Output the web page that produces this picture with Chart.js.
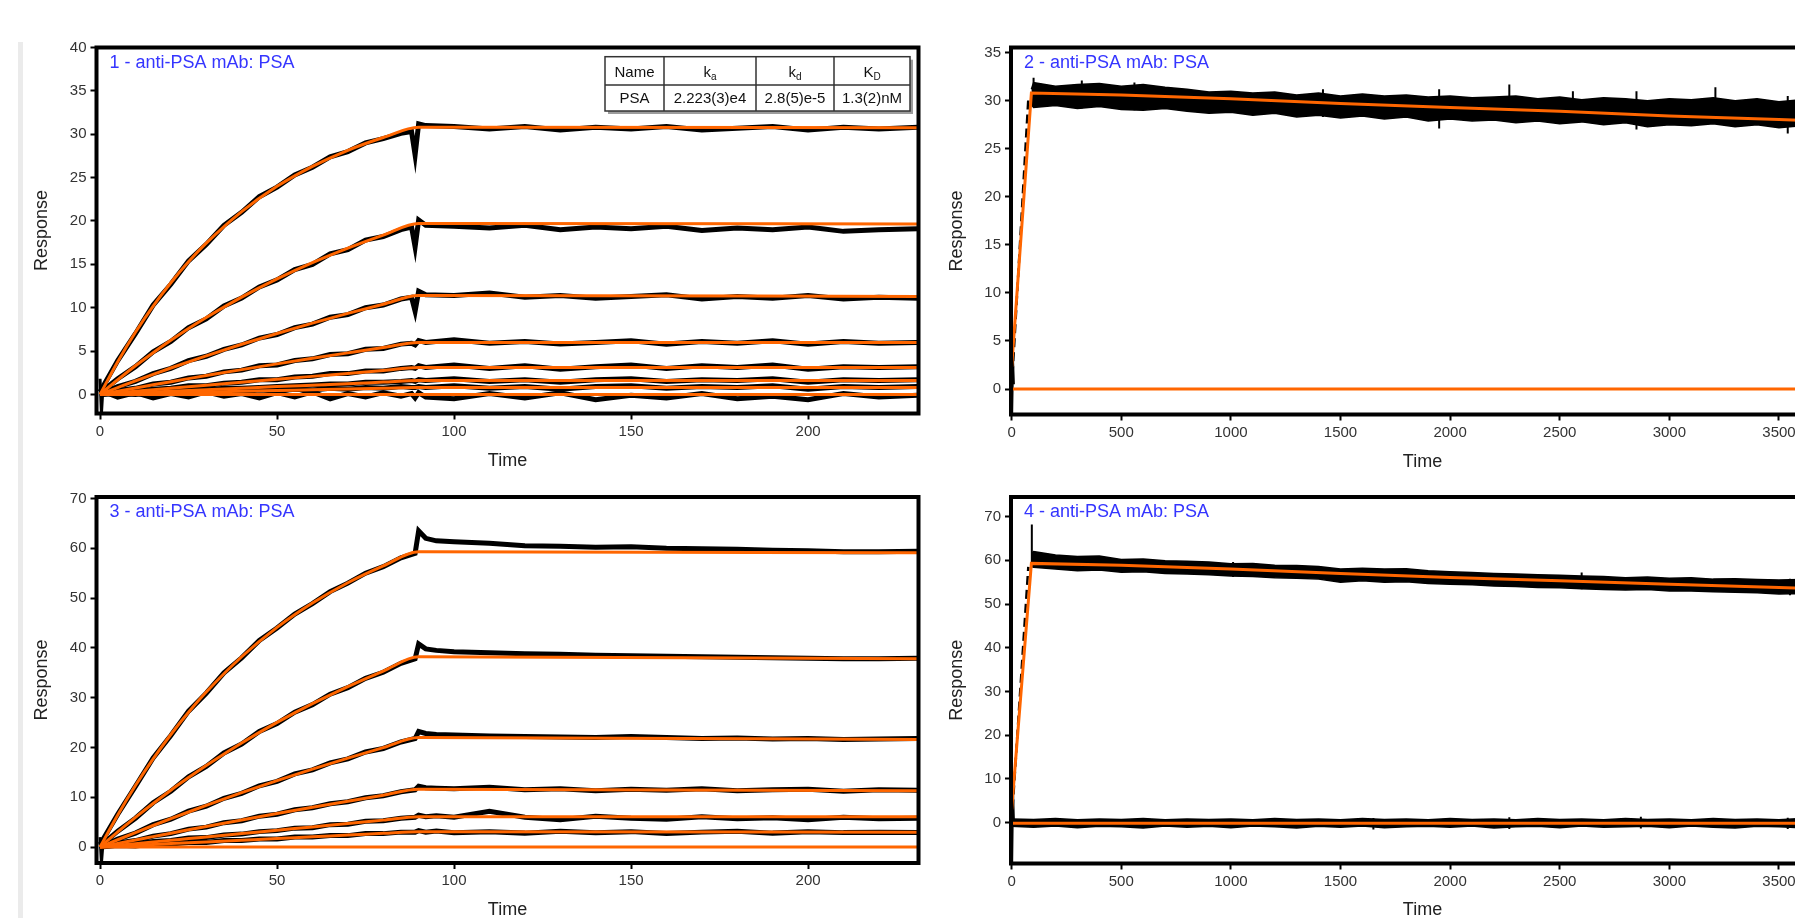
<!DOCTYPE html>
<html>
<head>
<meta charset="utf-8">
<script src="https://cdn.jsdelivr.net/npm/chart.js@4.4.1/dist/chart.umd.min.js"></script>
<style>
  html, body { margin: 0; padding: 0; background: #fff; overflow: hidden; width: 1795px; height: 918px; }
  .sidebar { position: absolute; left: 18px; top: 42px; width: 5px; height: 876px; background: #ebebeb; }
  canvas { position: absolute; }
</style>
</head>
<body>
<div class="sidebar"></div>
<canvas id="c1" width="960" height="480" style="left:0;top:0"></canvas>
<canvas id="c3" width="960" height="480" style="left:0;top:450px"></canvas>
<canvas id="c2" width="940" height="480" style="left:930px;top:0"></canvas>
<canvas id="c4" width="940" height="480" style="left:930px;top:450px"></canvas>
<script>
// ---- data ----
const titles = ['1 - anti-PSA mAb: PSA', '2 - anti-PSA mAb: PSA', '3 - anti-PSA mAb: PSA', '4 - anti-PSA mAb: PSA'];
const tableHead = ['Name', 'k', 'k', 'K'];
const tableSub = ['', 'a', 'd', 'D'];
const tableRow = ['PSA', '2.223(3)e4', '2.8(5)e-5', '1.3(2)nM'];

const xTicksShort = [0, 50, 100, 150, 200];
const xTicksLong = [0, 500, 1000, 1500, 2000, 2500, 3000, 3500];
const yTicks1 = [0, 5, 10, 15, 20, 25, 30, 35, 40];
const yTicks2 = [0, 5, 10, 15, 20, 25, 30, 35];
const yTicks3 = [0, 10, 20, 30, 40, 50, 60, 70];
const yTicks4 = [0, 10, 20, 30, 40, 50, 60, 70];

// fitted curves, panels 1 and 3
const tFit = [0, 5, 10, 15, 20, 25, 30, 40, 50, 60, 70, 80, 90, 231];
const p1Fit1 = [0, 3.78, 7.17, 10.19, 12.88, 15.29, 17.44, 21.08, 23.99, 26.30, 28.15, 29.62, 30.8, 30.75];
const p1Fit2 = [0, 1.69, 3.30, 4.81, 6.24, 7.60, 8.87, 11.22, 13.32, 15.19, 16.86, 18.36, 19.7, 19.65];
const p1Fit3 = [0, 0.79, 1.57, 2.32, 3.05, 3.76, 4.45, 5.78, 7.03, 8.22, 9.34, 10.40, 11.4, 11.3];
const p1Fit4 = [0, 0.37, 0.74, 1.11, 1.47, 1.82, 2.17, 2.86, 3.52, 4.16, 4.79, 5.41, 6.0, 6.0];
const p1Fit5 = [0, 0.18, 0.36, 0.53, 0.71, 0.88, 1.06, 1.40, 1.74, 2.08, 2.42, 2.76, 3.1, 3.1];
const p1Fit6 = [0, 0.09, 0.18, 0.27, 0.36, 0.45, 0.54, 0.72, 0.90, 1.07, 1.24, 1.42, 1.6, 1.6];
const p1Fit7 = [0, 0.04, 0.09, 0.13, 0.18, 0.22, 0.27, 0.36, 0.45, 0.53, 0.62, 0.71, 0.8, 0.8];
const p1Fit8 = [0, 0, 0, 0, 0, 0, 0, 0, 0, 0, 0, 0, 0, 0];

const p3Fit1 = [0, 6.45, 12.35, 17.71, 22.61, 27.07, 31.13, 38.22, 44.12, 49.01, 53.08, 56.46, 59.3, 59.1];
const p3Fit2 = [0, 3.06, 5.97, 8.75, 11.42, 13.95, 16.38, 20.91, 25.03, 28.79, 32.23, 35.35, 38.2, 37.8];
const p3Fit3 = [0, 1.47, 2.92, 4.33, 5.70, 7.04, 8.36, 10.92, 13.34, 15.65, 17.87, 19.98, 22.0, 21.6];
const p3Fit4 = [0, 0.71, 1.41, 2.10, 2.79, 3.47, 4.14, 5.45, 6.73, 7.99, 9.22, 10.42, 11.6, 11.3];
const p3Fit5 = [0, 0.35, 0.69, 1.03, 1.37, 1.70, 2.04, 2.71, 3.38, 4.05, 4.72, 5.41, 6.1, 6.1];
const p3Fit6 = [0, 0.17, 0.35, 0.52, 0.70, 0.87, 1.04, 1.38, 1.72, 2.07, 2.41, 2.76, 3.1, 3.0];
const p3Fit7 = [0, 0, 0, 0, 0, 0, 0, 0, 0, 0, 0, 0, 0, 0];

// measured traces, panel 1
const tData1 = [0, 5, 10, 15, 20, 25, 30, 35, 40, 45, 50, 55, 60, 65, 70, 75, 80, 85, 88, 89, 90, 92, 100, 110, 120, 130, 140, 150, 160, 170, 180, 190, 200, 210, 220, 231];
const p1Data1 = [0.3, 3.9, 7.0, 10.3, 12.7, 15.4, 17.3, 19.5, 21.0, 22.8, 23.9, 25.3, 26.2, 27.4, 28.0, 29.0, 29.5, 30.1, 30.3, 27.6, 31.2, 31.0, 30.9, 30.6, 30.9, 30.5, 30.8, 30.6, 30.9, 30.5, 30.7, 30.9, 30.5, 30.8, 30.6, 30.8];
const p1Data2 = [0.2, 1.8, 3.2, 4.9, 6.1, 7.7, 8.7, 10.2, 11.1, 12.4, 13.2, 14.4, 15.0, 16.2, 16.7, 17.8, 18.2, 19.0, 19.3, 17.0, 20.1, 19.5, 19.4, 19.2, 19.5, 19.0, 19.3, 19.1, 19.4, 18.9, 19.2, 19.0, 19.3, 18.8, 19.0, 19.1];
const p1Data3 = [0.1, 0.9, 1.5, 2.4, 3.0, 3.9, 4.4, 5.2, 5.7, 6.5, 6.9, 7.7, 8.1, 8.9, 9.2, 10.0, 10.3, 11.0, 11.2, 9.6, 11.9, 11.5, 11.4, 11.7, 11.2, 11.4, 11.1, 11.3, 11.5, 11.0, 11.3, 11.1, 11.4, 11.0, 11.2, 11.1];
const p1Data4 = [0, 0.45, 0.7, 1.2, 1.4, 1.9, 2.1, 2.6, 2.8, 3.3, 3.4, 3.9, 4.1, 4.6, 4.7, 5.2, 5.3, 5.8, 5.9, 5.7, 6.2, 6.0, 6.3, 5.9, 6.1, 5.8, 6.0, 6.2, 5.8, 6.1, 5.9, 6.2, 5.8, 6.1, 5.9, 6.0];
const p1Data5 = [0, 0.3, 0.3, 0.6, 0.7, 1.0, 1.0, 1.3, 1.4, 1.7, 1.7, 2.0, 2.1, 2.4, 2.4, 2.7, 2.7, 3.0, 3.1, 3.0, 3.3, 3.1, 3.4, 3.0, 3.3, 2.9, 3.2, 3.4, 3.0, 3.3, 3.1, 3.4, 2.9, 3.2, 3.1, 3.2];
const p1Data6 = [0, 0.2, 0.1, 0.3, 0.4, 0.5, 0.5, 0.7, 0.7, 0.8, 0.9, 1.0, 1.1, 1.2, 1.2, 1.4, 1.4, 1.5, 1.6, 1.5, 1.7, 1.6, 1.8, 1.5, 1.7, 1.4, 1.7, 1.8, 1.5, 1.7, 1.6, 1.8, 1.4, 1.7, 1.6, 1.7];
const p1Data7 = [0, 0.1, 0, 0.2, 0.2, 0.3, 0.2, 0.4, 0.3, 0.5, 0.4, 0.6, 0.5, 0.7, 0.6, 0.8, 0.7, 0.9, 0.8, 0.8, 0.9, 0.8, 1.0, 0.7, 0.9, 0.6, 0.9, 1.0, 0.7, 0.9, 0.8, 1.0, 0.6, 0.9, 0.8, 0.9];
const p1Data8 = [0.5, -0.3, 0.2, -0.4, 0.1, -0.3, 0.3, -0.2, 0.1, -0.4, 0.2, -0.3, 0.3, -0.5, 0.1, -0.3, 0.2, -0.2, 0.1, -0.4, 0.2, -0.3, -0.5, 0.1, -0.4, 0.2, -0.6, -0.1, -0.4, 0.1, -0.5, -0.2, -0.6, 0.1, -0.3, -0.1];

// measured traces, panel 3
const tData3 = [0, 5, 10, 15, 20, 25, 30, 35, 40, 45, 50, 55, 60, 65, 70, 75, 80, 85, 89, 90, 92, 95, 100, 110, 120, 130, 140, 150, 160, 170, 180, 190, 200, 210, 220, 231];
const p3Data1 = [0.5, 6.6, 12.2, 17.9, 22.4, 27.3, 30.9, 35.0, 38.0, 41.5, 44.0, 46.8, 48.9, 51.3, 53.0, 55.0, 56.3, 58.1, 59.0, 63.5, 62.0, 61.5, 61.3, 61.0, 60.5, 60.4, 60.2, 60.3, 60.0, 59.9, 59.8, 59.6, 59.5, 59.3, 59.3, 59.4];
const p3Data2 = [0.2, 3.2, 5.8, 8.9, 11.2, 14.1, 16.2, 18.9, 20.7, 23.2, 24.8, 27.1, 28.6, 30.7, 32.0, 33.9, 35.1, 36.9, 37.8, 40.8, 39.8, 39.5, 39.2, 39.0, 38.8, 38.7, 38.5, 38.4, 38.3, 38.2, 38.1, 38.0, 37.9, 37.8, 37.8, 37.9];
const p3Data3 = [0, 1.6, 2.8, 4.5, 5.6, 7.2, 8.2, 9.8, 10.8, 12.3, 13.2, 14.7, 15.5, 16.9, 17.7, 19.1, 19.8, 21.1, 21.8, 23.2, 22.8, 22.6, 22.5, 22.3, 22.2, 22.1, 22.0, 22.2, 22.0, 21.8, 21.9, 21.7, 21.8, 21.6, 21.7, 21.8];
const p3Data4 = [0, 0.8, 1.3, 2.2, 2.7, 3.6, 4.0, 4.9, 5.3, 6.2, 6.6, 7.5, 7.9, 8.7, 9.1, 9.9, 10.3, 11.1, 11.5, 12.2, 11.9, 11.8, 11.7, 12.0, 11.5, 11.7, 11.3, 11.6, 11.4, 11.7, 11.3, 11.5, 11.6, 11.2, 11.5, 11.4];
const p3Data5 = [0, 0.5, 0.6, 1.1, 1.3, 1.8, 1.9, 2.4, 2.6, 3.1, 3.3, 3.8, 3.9, 4.5, 4.6, 5.2, 5.3, 5.8, 6.0, 6.4, 6.1, 6.3, 6.0, 7.2, 6.0, 5.5, 6.2, 5.8, 5.6, 6.1, 5.7, 5.9, 5.5, 6.0, 5.7, 5.8];
const p3Data6 = [0, 0.3, 0.2, 0.6, 0.6, 0.9, 0.9, 1.3, 1.3, 1.6, 1.6, 2.0, 2.0, 2.3, 2.3, 2.7, 2.7, 3.0, 3.0, 3.3, 3.0, 3.2, 2.9, 3.1, 2.8, 3.2, 2.9, 3.1, 2.7, 3.0, 3.2, 2.8, 3.1, 2.9, 3.0, 2.9];

// injection start spikes
const startT = [0, 0.4, 0.8];
const p1StartY = [1.8, -2.2, 0.6];
const p3StartY = [2.0, -3.2, 0.5];
const startTLong = [0, 4, 8];
const p2StartY = [-2.6, 3.0, 0.5];
const p4StartY = [-9.4, 7.0, 0.5];

// long runs, panels 2 and 4
const tFitLong = [0, 90, 500, 1000, 1500, 2000, 2500, 3000, 3500, 3751];
const p2Fit = [2.3, 30.8, 30.6, 30.2, 29.7, 29.3, 28.9, 28.4, 28.05, 27.85];
const p4Fit = [3.0, 59.3, 58.9, 58.0, 57.0, 56.1, 55.3, 54.5, 53.8, 53.4];
const tZeroFit = [0, 3751];
const p2ZeroFit = [0, 0];
const p4ZeroFit = [-0.2, -0.2];
const tRise = [0, 76];
const p2Rise = [0, 30.2];
const p4Rise = [0, 58.5];

const tBand = [90, 100, 200, 300, 400, 500, 600, 700, 800, 900, 1000, 1100, 1200, 1300, 1400, 1500, 1600, 1700, 1800, 1900, 2000, 2100, 2200, 2300, 2400, 2500, 2600, 2700, 2800, 2900, 3000, 3100, 3200, 3300, 3400, 3500, 3600, 3700, 3750];
const p2High = [31.2, 31.9, 31.5, 31.7, 31.8, 31.5, 31.7, 31.4, 31.2, 30.9, 31.0, 30.8, 30.9, 30.6, 30.8, 30.5, 30.7, 30.5, 30.6, 30.4, 30.5, 30.3, 30.4, 30.5, 30.2, 30.4, 30.1, 30.3, 30.2, 30.0, 30.2, 30.1, 30.3, 30.0, 30.2, 29.9, 30.1, 29.8, 29.9];
const p2Low = [29.6, 29.3, 29.5, 29.2, 29.4, 29.1, 29.0, 29.2, 28.9, 28.7, 28.8, 28.5, 28.7, 28.3, 28.5, 28.2, 28.4, 28.1, 28.3, 27.9, 28.1, 27.9, 28.0, 27.7, 27.9, 27.6, 27.8, 27.5, 27.7, 27.3, 27.5, 27.4, 27.6, 27.3, 27.5, 27.2, 27.4, 27.1, 27.3];
const p4High = [61.5, 62.0, 61.2, 60.9, 61.0, 60.2, 60.3, 59.9, 59.8, 59.6, 59.2, 59.3, 58.9, 58.8, 58.6, 58.0, 58.2, 58.0, 58.1, 57.6, 57.4, 57.2, 57.0, 56.9, 56.7, 56.6, 56.4, 56.3, 56.0, 56.2, 55.9, 56.0, 55.7, 55.8, 55.6, 55.5, 55.6, 55.3, 55.4];
const p4Low = [58.6, 58.4, 58.0, 57.6, 57.8, 57.3, 57.4, 57.0, 56.9, 56.7, 56.4, 56.3, 56.0, 55.9, 55.7, 55.0, 55.3, 55.0, 55.1, 54.7, 54.5, 54.4, 54.1, 54.0, 53.8, 53.7, 53.5, 53.3, 53.2, 53.3, 53.0, 53.0, 52.8, 52.7, 52.6, 52.3, 52.4, 52.1, 52.2];

const tZero = [0, 100, 200, 300, 400, 500, 600, 700, 800, 900, 1000, 1100, 1200, 1300, 1400, 1500, 1600, 1700, 1800, 1900, 2000, 2100, 2200, 2300, 2400, 2500, 2600, 2700, 2800, 2900, 3000, 3100, 3200, 3300, 3400, 3500, 3600, 3700, 3750];
const p4ZeroHigh = [0.8, 0.7, 0.9, 0.6, 0.8, 0.7, 0.9, 0.6, 0.8, 0.7, 0.8, 0.6, 0.9, 0.7, 0.8, 0.6, 0.9, 0.7, 0.8, 0.6, 0.9, 0.7, 0.8, 0.6, 0.9, 0.7, 0.8, 0.6, 0.9, 0.7, 0.8, 0.6, 0.9, 0.7, 0.8, 0.6, 0.9, 0.7, 0.8];
const p4ZeroLow = [-0.9, -1.1, -0.8, -1.2, -0.9, -1.0, -1.3, -0.8, -1.1, -0.9, -1.2, -0.8, -1.0, -1.3, -0.9, -1.1, -0.8, -1.2, -1.0, -0.9, -1.1, -0.8, -1.3, -1.0, -0.9, -1.2, -0.8, -1.1, -1.0, -0.9, -1.2, -0.8, -1.1, -1.3, -0.9, -1.0, -1.2, -0.9, -1.0];

const p2SpikeT = [100, 320, 560, 1420, 1950, 2270, 2560, 2850, 3210, 3540, 3700];
const p2SpikeLo = [29.8, 29.2, 29.0, 28.3, 27.1, 29.2, 28.0, 27.0, 28.2, 26.6, 27.4];
const p2SpikeHi = [32.4, 32.1, 31.9, 31.2, 31.2, 31.7, 31.0, 31.0, 31.4, 30.5, 30.9];
const p4SpikeT = [92, 1010, 2600, 3550];
const p4SpikeLo = [59.0, 56.2, 53.4, 52.0];
const p4SpikeHi = [68.2, 59.6, 57.2, 55.8];
const p4ZeroSpikeT = [1650, 2270, 2870, 3540];
const p4ZeroSpikeLo = [-1.6, -1.5, -1.4, -1.5];
const p4ZeroSpikeHi = [1.0, 1.2, 1.3, 1.1];

// ---- drawing ----
const FONT = "'Liberation Sans', Arial, sans-serif";
Chart.defaults.font.family = FONT;
const BLACK = '#000';
const ORANGE = '#ff6600';

const pts = (xs, ys) => xs.map((x, i) => ({ x: x, y: ys[i] }));

function blackLine(xs, ys, w) {
  return { data: pts(xs, ys), borderColor: BLACK, borderWidth: w || 5, order: 1 };
}
function fitLine(xs, ys, smooth) {
  return { data: pts(xs, ys), borderColor: ORANGE, borderWidth: 3, order: 0,
    cubicInterpolationMode: smooth ? 'monotone' : 'default' };
}
function band(xs, hi, lo) {
  return [
    { data: pts(xs, hi), borderColor: BLACK, borderWidth: 1.5, order: 1 },
    { data: pts(xs, lo), borderColor: BLACK, borderWidth: 1.5, order: 1, fill: '-1', backgroundColor: BLACK }
  ];
}
function spikes(ts, lo, hi) {
  const d = [];
  ts.forEach((t, i) => { d.push({ x: t, y: lo[i] }, { x: t, y: hi[i] }, { x: t, y: null }); });
  return { data: d, borderColor: BLACK, borderWidth: 2, order: 1, spanGaps: false };
}
function dashed(xs, ys) {
  return { data: pts(xs, ys), borderColor: BLACK, borderWidth: 2.5, borderDash: [9, 5], order: 1 };
}

function drawTable(ctx, a) {
  const colW = [59, 92, 78, 76];
  const rowH = [28.3, 26];
  const w = colW.reduce((s, v) => s + v, 0);
  const h = rowH[0] + rowH[1];
  const left = a.right - 313.5;
  const top = a.top + 9.2;
  ctx.fillStyle = '#9c9c9c';
  ctx.fillRect(left + 3, top + 3, w, h);
  ctx.fillStyle = '#fff';
  ctx.fillRect(left, top, w, h);
  ctx.strokeStyle = '#333';
  ctx.lineWidth = 1.5;
  ctx.strokeRect(left, top, w, h);
  ctx.beginPath();
  ctx.moveTo(left, top + rowH[0]); ctx.lineTo(left + w, top + rowH[0]);
  let x = left;
  for (let i = 0; i < colW.length - 1; i++) {
    x += colW[i];
    ctx.moveTo(x, top); ctx.lineTo(x, top + h);
  }
  ctx.stroke();
  ctx.fillStyle = '#111';
  ctx.textBaseline = 'alphabetic';
  ctx.textAlign = 'left';
  x = left;
  for (let i = 0; i < colW.length; i++) {
    const cx = x + colW[i] / 2;
    ctx.font = '15px ' + FONT;
    const mw = ctx.measureText(tableHead[i]).width;
    ctx.font = '10px ' + FONT;
    const sw = tableSub[i] ? ctx.measureText(tableSub[i]).width : 0;
    const sx = cx - (mw + sw) / 2;
    ctx.font = '15px ' + FONT;
    ctx.fillText(tableHead[i], sx, top + 20);
    if (tableSub[i]) {
      ctx.font = '10px ' + FONT;
      ctx.fillText(tableSub[i], sx + mw, top + 23);
    }
    ctx.font = '15px ' + FONT;
    const rw = ctx.measureText(tableRow[i]).width;
    ctx.fillText(tableRow[i], cx - rw / 2, top + 46);
    x += colW[i];
  }
}

const frame = {
  id: 'frame',
  afterDatasetsDraw(chart, args, opts) {
    const ctx = chart.ctx;
    const a = chart.chartArea;
    ctx.save();
    ctx.strokeStyle = BLACK;
    ctx.lineWidth = 4;
    ctx.strokeRect(a.left, a.top, a.right - a.left, a.bottom - a.top);
    ctx.fillStyle = '#3535ff';
    ctx.font = '18px ' + FONT;
    ctx.textBaseline = 'alphabetic';
    ctx.textAlign = 'left';
    ctx.fillText(opts.title, a.left + 13, a.top + 20);
    if (opts.table) drawTable(ctx, a);
    ctx.restore();
  }
};

function makeChart(id, g, ax, datasets, title, table) {
  const tickFont = { family: FONT, size: 15 };
  const grid = { display: true, drawOnChartArea: false, drawTicks: true, tickLength: 6, tickColor: BLACK, tickWidth: 2 };
  return new Chart(document.getElementById(id), {
    type: 'line',
    data: { datasets: datasets },
    plugins: [frame],
    options: {
      responsive: false,
      animation: false,
      events: [],
      layout: { padding: { left: 0, top: g.t, right: g.w - g.r, bottom: 0 } },
      elements: { point: { radius: 0 }, line: { tension: 0 } },
      plugins: { legend: { display: false }, tooltip: { enabled: false }, frame: { title: title, table: table } },
      scales: {
        x: {
          type: 'linear', min: ax.xmin, max: ax.xmax,
          afterBuildTicks: (s) => { s.ticks = ax.xTicks.map(v => ({ value: v })); },
          afterFit: (s) => { s.height = g.h - g.b; },
          grid: grid, border: { display: false },
          ticks: { font: tickFont, color: '#333', padding: 3, autoSkip: false, maxRotation: 0, callback: (v) => String(v) },
          title: { display: true, text: 'Time', color: '#222', font: { family: FONT, size: 18 }, padding: { top: 0, bottom: g.h - g.xt - 10.8 } }
        },
        y: {
          type: 'linear', min: ax.ymin, max: ax.ymax,
          afterBuildTicks: (s) => { s.ticks = ax.yTicks.map(v => ({ value: v })); },
          afterFit: (s) => { s.width = g.l; },
          grid: grid, border: { display: false },
          ticks: { font: tickFont, color: '#333', padding: 4, autoSkip: false, callback: (v) => String(v) },
          title: { display: true, text: 'Response', color: '#222', font: { family: FONT, size: 18 }, padding: { top: g.yt - 10.8, bottom: 0 } }
        }
      }
    }
  });
}

// panel 1
const p1Sets = [];
[p1Fit1, p1Fit2, p1Fit3, p1Fit4, p1Fit5, p1Fit6, p1Fit7, p1Fit8].forEach(f => p1Sets.push(fitLine(tFit, f, true)));
[p1Data1, p1Data2, p1Data3, p1Data4, p1Data5, p1Data6, p1Data7, p1Data8].forEach(d => p1Sets.push(blackLine(tData1, d)));
p1Sets.push(blackLine(startT, p1StartY, 3));
makeChart('c1', { w: 960, h: 480, l: 96.5, t: 47.5, r: 918.5, b: 413.5, yt: 42.5, xt: 461 },
  { xmin: -1, xmax: 231.2, ymin: -2.2, ymax: 40, xTicks: xTicksShort, yTicks: yTicks1 },
  p1Sets, titles[0], true);

// panel 3
const p3Sets = [];
[p3Fit1, p3Fit2, p3Fit3, p3Fit4, p3Fit5, p3Fit6, p3Fit7].forEach(f => p3Sets.push(fitLine(tFit, f, true)));
[p3Data1, p3Data2, p3Data3, p3Data4, p3Data5, p3Data6].forEach(d => p3Sets.push(blackLine(tData3, d)));
p3Sets.push(blackLine(startT, p3StartY, 3));
makeChart('c3', { w: 960, h: 480, l: 96.5, t: 47, r: 918.5, b: 413, yt: 42.5, xt: 460 },
  { xmin: -1, xmax: 231.2, ymin: -3.2, ymax: 70.3, xTicks: xTicksShort, yTicks: yTicks3 },
  p3Sets, titles[2], false);

// panel 2
const p2Sets = [fitLine(tFitLong, p2Fit, false), fitLine(tZeroFit, p2ZeroFit, false)];
p2Sets.push(...band(tBand, p2High, p2Low));
p2Sets.push(spikes(p2SpikeT, p2SpikeLo, p2SpikeHi));
p2Sets.push(dashed(tRise, p2Rise));
p2Sets.push(blackLine(startTLong, p2StartY, 3));
makeChart('c2', { w: 940, h: 480, l: 81, t: 47.5, r: 904, b: 414.5, yt: 27, xt: 461.7 },
  { xmin: -3, xmax: 3751, ymin: -2.65, ymax: 35.54, xTicks: xTicksLong, yTicks: yTicks2 },
  p2Sets, titles[1], false);

// panel 4
const p4Sets = [fitLine(tFitLong, p4Fit, false), fitLine(tZeroFit, p4ZeroFit, false)];
p4Sets.push(...band(tBand, p4High, p4Low));
p4Sets.push(...band(tZero, p4ZeroHigh, p4ZeroLow));
p4Sets.push(spikes(p4SpikeT, p4SpikeLo, p4SpikeHi));
p4Sets.push(spikes(p4ZeroSpikeT, p4ZeroSpikeLo, p4ZeroSpikeHi));
p4Sets.push(dashed(tRise, p4Rise));
p4Sets.push(blackLine(startTLong, p4StartY, 3));
makeChart('c4', { w: 940, h: 480, l: 81, t: 47, r: 904, b: 413.5, yt: 27, xt: 460 },
  { xmin: -3, xmax: 3751, ymin: -9.4, ymax: 74.5, xTicks: xTicksLong, yTicks: yTicks4 },
  p4Sets, titles[3], false);
</script>
</body>
</html>
